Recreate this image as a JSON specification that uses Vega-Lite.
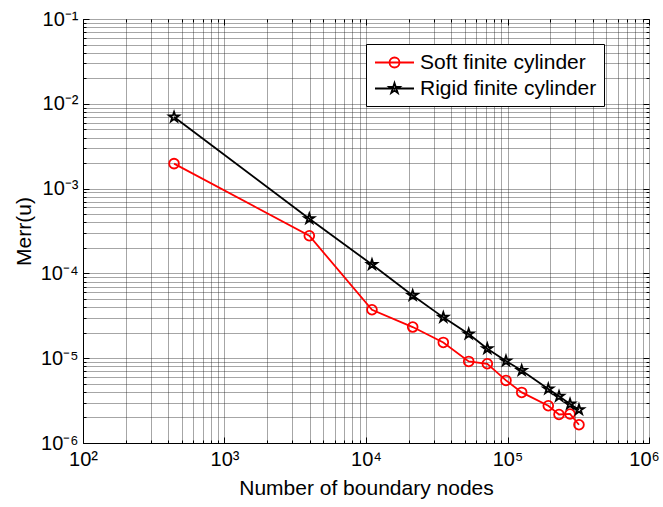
{
  "$schema": "https://vega.github.io/schema/vega-lite/v6.json",
  "width": 566,
  "height": 424,
  "autosize": {"type": "none"},
  "padding": {"left": 83, "top": 19, "right": 14, "bottom": 64},
  "background": "white",
  "config": {
    "view": {"stroke": null},
    "font": "Liberation Sans",
    "axis": {
      "labelFont": "Liberation Sans",
      "titleFont": "Liberation Sans",
      "labelColor": "black",
      "titleColor": "black",
      "labelFontSize": 20,
      "titleFontSize": 21,
      "titleFontWeight": "normal",
      "domainColor": "black",
      "domainWidth": 1,
      "tickColor": "black",
      "tickWidth": 1,
      "gridColor": "#222222",
      "gridOpacity": 0.8,
      "gridDash": [1, 1],
      "gridWidth": 1,
      "labelFlush": false,
      "labelOverlap": false
    }
  },
  "data": {
    "values": [
      {"n": 440, "merr": 0.00197, "series": "Soft finite cylinder"},
      {"n": 3975, "merr": 0.000278, "series": "Soft finite cylinder"},
      {"n": 11020, "merr": 0.0000373, "series": "Soft finite cylinder"},
      {"n": 21380, "merr": 0.0000233, "series": "Soft finite cylinder"},
      {"n": 35180, "merr": 0.00001535, "series": "Soft finite cylinder"},
      {"n": 53200, "merr": 0.00000916, "series": "Soft finite cylinder"},
      {"n": 72000, "merr": 0.0000086, "series": "Soft finite cylinder"},
      {"n": 97560, "merr": 0.00000547, "series": "Soft finite cylinder"},
      {"n": 126000, "merr": 0.00000395, "series": "Soft finite cylinder"},
      {"n": 194200, "merr": 0.00000275, "series": "Soft finite cylinder"},
      {"n": 231200, "merr": 0.00000217, "series": "Soft finite cylinder"},
      {"n": 276600, "merr": 0.0000022, "series": "Soft finite cylinder"},
      {"n": 320000, "merr": 0.00000164, "series": "Soft finite cylinder"},
      {"n": 440, "merr": 0.00698, "series": "Rigid finite cylinder"},
      {"n": 3975, "merr": 0.000442, "series": "Rigid finite cylinder"},
      {"n": 11020, "merr": 0.000127, "series": "Rigid finite cylinder"},
      {"n": 21380, "merr": 0.000055, "series": "Rigid finite cylinder"},
      {"n": 35180, "merr": 0.0000303, "series": "Rigid finite cylinder"},
      {"n": 53200, "merr": 0.0000193, "series": "Rigid finite cylinder"},
      {"n": 72000, "merr": 0.00001295, "series": "Rigid finite cylinder"},
      {"n": 97560, "merr": 0.00000927, "series": "Rigid finite cylinder"},
      {"n": 126000, "merr": 0.00000718, "series": "Rigid finite cylinder"},
      {"n": 194200, "merr": 0.00000433, "series": "Rigid finite cylinder"},
      {"n": 231200, "merr": 0.00000355, "series": "Rigid finite cylinder"},
      {"n": 276600, "merr": 0.00000288, "series": "Rigid finite cylinder"},
      {"n": 320000, "merr": 0.00000247, "series": "Rigid finite cylinder"}
    ]
  },
  "layer": [
    {
      "mark": {"type": "line", "strokeWidth": 1.8, "clip": true},
      "encoding": {
        "x": {
          "field": "n",
          "type": "quantitative",
          "scale": {"type": "log", "domain": [100, 1000000], "nice": false},
          "axis": {
            "orient": "bottom",
            "title": "Number of boundary nodes",
            "titlePadding": 5,
            "labelPadding": 12,
            "grid": true,
            "tickSize": {"condition": {"test": "abs(log(datum.value)/LN10 - round(log(datum.value)/LN10)) < 0.001", "value": -6}, "value": -3},
            "labelOffset": {"condition": {"test": "datum.value == 1000000", "value": -5}, "value": 0},
            "values": [100, 200, 300, 400, 500, 600, 700, 800, 900, 1000, 2000, 3000, 4000, 5000, 6000, 7000, 8000, 9000, 10000, 20000, 30000, 40000, 50000, 60000, 70000, 80000, 90000, 100000, 200000, 300000, 400000, 500000, 600000, 700000, 800000, 900000, 1000000],
            "labelExpr": "datum.value == 100 ? '10²' : datum.value == 1000 ? '10³' : datum.value == 10000 ? '10⁴' : datum.value == 100000 ? '10⁵' : datum.value == 1000000 ? '10⁶' : ''"
          }
        },
        "y": {
          "field": "merr",
          "type": "quantitative",
          "scale": {"type": "log", "domain": [0.000001, 0.1], "nice": false},
          "axis": {
            "orient": "left",
            "title": "Merr(u)",
            "titlePadding": 6,
            "labelPadding": 11,
            "grid": true,
            "tickSize": {"condition": {"test": "abs(log(datum.value)/LN10 - round(log(datum.value)/LN10)) < 0.001", "value": -6}, "value": -3},
            "values": [0.000001, 0.000002, 0.000003, 0.000004, 0.000005, 0.000006, 0.000007, 0.000008, 0.000009, 0.00001, 0.00002, 0.00003, 0.00004, 0.00005, 0.00006, 0.00007, 0.00008, 0.00009, 0.0001, 0.0002, 0.0003, 0.0004, 0.0005, 0.0006, 0.0007, 0.0008, 0.0009, 0.001, 0.002, 0.003, 0.004, 0.005, 0.006, 0.007, 0.008, 0.009, 0.01, 0.02, 0.03, 0.04, 0.05, 0.06, 0.07, 0.08, 0.09, 0.1],
            "labelExpr": "datum.value == 0.1 ? '10⁻¹' : datum.value == 0.01 ? '10⁻²' : datum.value == 0.001 ? '10⁻³' : datum.value == 0.0001 ? '10⁻⁴' : datum.value == 0.00001 ? '10⁻⁵' : datum.value == 0.000001 ? '10⁻⁶' : ''"
          }
        },
        "color": {
          "field": "series",
          "type": "nominal",
          "scale": {"domain": ["Soft finite cylinder", "Rigid finite cylinder"], "range": ["#ff0000", "#000000"]},
          "legend": {
            "title": null,
            "orient": "none",
            "legendX": 283,
            "legendY": 25,
            "fillColor": "white",
            "strokeColor": "black",
            "padding": 7,
            "labelFont": "Liberation Sans",
            "labelFontSize": 21,
            "labelColor": "black",
            "labelLimit": 0,
            "symbolSize": 441,
            "labelOffset": 24,
            "rowPadding": 4,
            "encode": {
              "symbols": {
                "update": {
                  "shape": {"signal": "datum.value === 'Soft finite cylinder' ? 'M-0.905,0H2.81M1.429,0A0.476,0.476,0,1,1,0.477,0A0.476,0.476,0,1,1,1.429,0' : 'M-0.905,0H2.81M0.953,-0.524L1.071,-0.162L1.451,-0.162L1.143,0.062L1.261,0.424L0.953,0.2L0.645,0.424L0.763,0.062L0.455,-0.162L0.835,-0.162Z'"},
                  "fill": {"value": "transparent"},
                  "strokeWidth": {"value": 1.8}
                }
              }
            }
          }
        }
      }
    },
    {
      "transform": [{"filter": "datum.series === 'Soft finite cylinder'"}],
      "mark": {"type": "point", "shape": "circle", "filled": false, "stroke": "#ff0000", "strokeWidth": 1.8, "opacity": 1, "size": 95},
      "encoding": {
        "x": {
          "field": "n",
          "type": "quantitative",
          "axis": {
            "orient": "top",
            "title": null,
            "labels": false,
            "grid": false,
            "domain": false,
            "tickSize": {"condition": {"test": "abs(log(datum.value)/LN10 - round(log(datum.value)/LN10)) < 0.001", "value": -6}, "value": -3},
            "values": [100, 200, 300, 400, 500, 600, 700, 800, 900, 1000, 2000, 3000, 4000, 5000, 6000, 7000, 8000, 9000, 10000, 20000, 30000, 40000, 50000, 60000, 70000, 80000, 90000, 100000, 200000, 300000, 400000, 500000, 600000, 700000, 800000, 900000, 1000000]
          }
        },
        "y": {
          "field": "merr",
          "type": "quantitative",
          "axis": {
            "orient": "right",
            "title": null,
            "labels": false,
            "grid": false,
            "domain": false,
            "tickSize": {"condition": {"test": "abs(log(datum.value)/LN10 - round(log(datum.value)/LN10)) < 0.001", "value": -6}, "value": -3},
            "values": [0.000001, 0.000002, 0.000003, 0.000004, 0.000005, 0.000006, 0.000007, 0.000008, 0.000009, 0.00001, 0.00002, 0.00003, 0.00004, 0.00005, 0.00006, 0.00007, 0.00008, 0.00009, 0.0001, 0.0002, 0.0003, 0.0004, 0.0005, 0.0006, 0.0007, 0.0008, 0.0009, 0.001, 0.002, 0.003, 0.004, 0.005, 0.006, 0.007, 0.008, 0.009, 0.01, 0.02, 0.03, 0.04, 0.05, 0.06, 0.07, 0.08, 0.09, 0.1]
          }
        }
      }
    },
    {
      "transform": [{"filter": "datum.series === 'Rigid finite cylinder'"}],
      "mark": {"type": "point", "shape": "M0,-1L0.2245,-0.309L0.951,-0.309L0.363,0.118L0.588,0.809L0,0.382L-0.588,0.809L-0.363,0.118L-0.951,-0.309L-0.2245,-0.309Z", "filled": false, "stroke": "#000000", "strokeWidth": 1.8, "opacity": 1, "size": 110},
      "encoding": {
        "x": {"field": "n", "type": "quantitative", "axis": null},
        "y": {"field": "merr", "type": "quantitative", "axis": null}
      }
    }
  ],
  "resolve": {"axis": {"x": "independent", "y": "independent"}}
}
